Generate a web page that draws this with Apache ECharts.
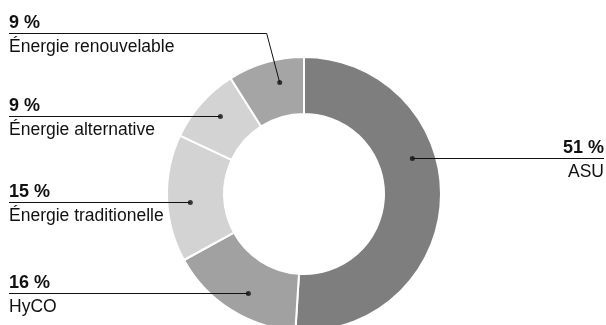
<!DOCTYPE html>
<html>
<head>
<meta charset="utf-8">
<style>
    html, body { margin: 0; padding: 0; background: #fff; }
    #chart { width: 606px; height: 325px; }
</style>
<script src="https://cdn.jsdelivr.net/npm/echarts@6/dist/echarts.min.js"></script>
</head>
<body>
<div id="chart"></div>
<script>
    // données
    var categories = ['ASU', 'HyCO', 'Énergie traditionelle', 'Énergie alternative', 'Énergie renouvelable'];
    var shares = [51, 16, 15, 9, 9];
    var shareLabels = ['51 %', '16 %', '15 %', '9 %', '9 %'];
    var sliceColors = ['#7e7e7e', '#a1a1a1', '#d3d3d3', '#d3d3d3', '#a5a5a5'];

    // géométrie de l'anneau
    var cx = 304, cy = 194, rIn = 80, rOut = 137, rDot = 114;
    // hauteur des traits de légende, côté
    var lineY = [158.5, 293.5, 202.5, 116.5, 33.5];
    var sides = ['right', 'left', 'left', 'left', 'left'];
    var leftX = 9, rightX = 604;

    var total = shares.reduce(function (a, b) { return a + b; }, 0);

    // angle du point (en % du tour, sens horaire depuis le haut)
    var acc = 0;
    var dotAngles = shares.map(function (v, i) {
        var a0 = acc / total * 100;
        acc += v;
        if (lineY[i] < cy - rDot) {
            // trait coudé : point dans la tranche
            return a0 + 0.62 * v / total * 100;
        }
        var deg = Math.acos((cy - lineY[i]) / rDot) * 180 / Math.PI;
        if (sides[i] === 'left') deg = 360 - deg;
        return deg / 3.6;
    });
    var dotPx = dotAngles.map(function (p) {
        var t = p * 3.6 * Math.PI / 180;
        return [cx + rDot * Math.sin(t), cy - rDot * Math.cos(t)];
    });

    // traits de rappel
    var leaders = dotPx.map(function (d, i) {
        var endX = sides[i] === 'right' ? rightX : leftX;
        var pts;
        if (lineY[i] < cy - rDot) {
            pts = [[d[0], d[1]], [d[0] - 13, lineY[i]], [endX, lineY[i]]];
        } else {
            pts = [[d[0], lineY[i]], [endX, lineY[i]]];
        }
        return {
            type: 'polyline',
            silent: true,
            z: 10,
            shape: { points: pts },
            style: { stroke: '#111', lineWidth: 1, fill: null }
        };
    });

    var chart = echarts.init(document.getElementById('chart'));
    var option = {
        animation: false,
        textStyle: { fontFamily: '"Liberation Sans", Arial, sans-serif' },
        polar: { center: [cx, cy], radius: rOut },
        angleAxis: { type: 'value', min: 0, max: 100, startAngle: 90, clockwise: true, show: false },
        radiusAxis: { type: 'value', min: 0, max: rOut, show: false },
        graphic: leaders,
        series: [{
            type: 'pie',
            center: [cx, cy],
            radius: [rIn, rOut],
            startAngle: 90,
            clockwise: true,
            silent: true,
            itemStyle: { borderColor: '#fff', borderWidth: 2 },
            data: categories.map(function (c, i) {
                return { name: c, value: shares[i], itemStyle: { color: sliceColors[i] } };
            }),
            label: {
                show: true,
                position: 'outside',
                overflow: 'none',
                color: '#111',
                formatter: function (p) {
                    return '{p|' + shareLabels[p.dataIndex] + '}\n{n|' + p.name + '}';
                },
                rich: {
                    p: { fontSize: 18, fontWeight: 'bold', lineHeight: 22, color: '#111' },
                    n: { fontSize: 17.5, lineHeight: 25, color: '#111' }
                }
            },
            labelLine: { show: false },
            labelLayout: function (params) {
                var i = params.dataIndex;
                var right = sides[i] === 'right';
                return {
                    x: right ? rightX : leftX,
                    y: lineY[i] - 21,
                    align: right ? 'right' : 'left',
                    verticalAlign: 'top'
                };
            }
        }, {
            type: 'scatter',
            coordinateSystem: 'polar',
            silent: true,
            symbolSize: 5,
            itemStyle: { color: '#111' },
            data: dotAngles.map(function (a) { return [rDot, a]; }),
            z: 5
        }]
    };
    chart.setOption(option);
</script>
</body>
</html>
